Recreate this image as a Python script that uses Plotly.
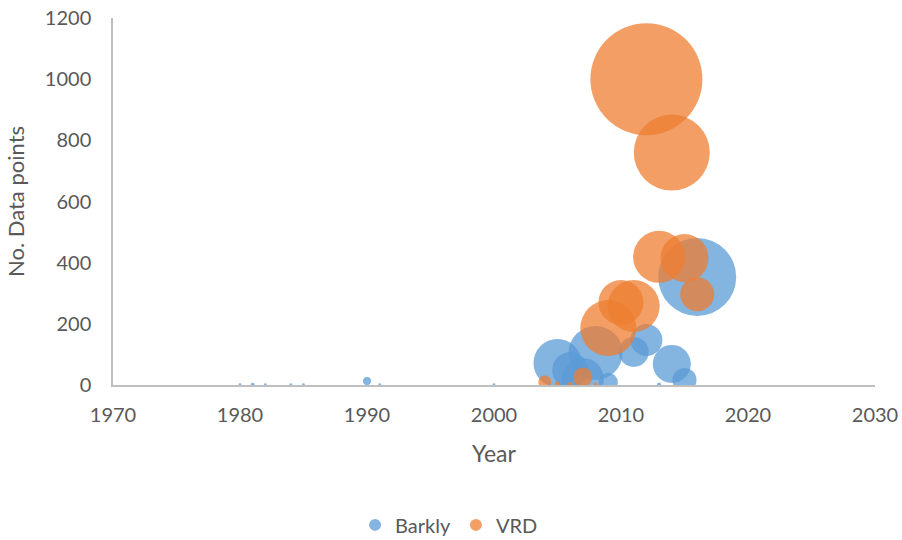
import plotly.graph_objects as go

# Barkly series
barkly_year = [1980, 1981, 1982, 1984, 1985, 1990, 1991, 2000,
               2005, 2006, 2007, 2008, 2009, 2011, 2012, 2013, 2014, 2015, 2016]
barkly_points = [1, 1, 1, 1, 1, 13, 1, 1,
                 72, 49, 20, 105, 9, 108, 147, 2, 69, 16, 353]
barkly_bubble = [2, 4, 2, 2, 2, 16, 2, 2,
                 576, 324, 441, 729, 90, 225, 256, 4, 361, 144, 1521]

# VRD series
vrd_year = [2004, 2005, 2006, 2007, 2008, 2009, 2010, 2011, 2012, 2013, 2014, 2015, 2016]
vrd_points = [10, 4, 2, 26, 2, 186, 270, 258, 1000, 419, 760, 415, 297]
vrd_bubble = [42, 6, 6, 90, 4, 784, 506, 676, 3136, 676, 1444, 576, 289]

x_ticks = [1970, 1980, 1990, 2000, 2010, 2020, 2030]
y_ticks = [0, 200, 400, 600, 800, 1000, 1200]

FONT = "Lato, 'Open Sans', sans-serif"
GREY = "#595959"
SIZEREF = 0.5

fig = go.Figure()
fig.add_trace(go.Scatter(
    x=barkly_year, y=barkly_points, mode="markers", name="Barkly",
    marker=dict(size=barkly_bubble, sizemode="area", sizeref=SIZEREF, sizemin=0,
                color="#5B9BD5", opacity=0.75, line=dict(width=0)),
))
fig.add_trace(go.Scatter(
    x=vrd_year, y=vrd_points, mode="markers", name="VRD",
    marker=dict(size=vrd_bubble, sizemode="area", sizeref=SIZEREF, sizemin=0,
                color="#ED7D31", opacity=0.75, line=dict(width=0)),
))

fig.update_layout(
    width=902, height=540,
    margin=dict(l=113, r=27, t=18, b=155, autoexpand=False),
    plot_bgcolor="white", paper_bgcolor="white",
    font=dict(family=FONT, color=GREY, size=20),
    showlegend=True,
    legend=dict(orientation="h", x=0.441, xanchor="center",
                yref="container", y=0.028, yanchor="middle",
                font=dict(size=20, color=GREY), itemsizing="constant"),
    xaxis=dict(range=[1970, 2030], tickvals=x_ticks, showgrid=False, zeroline=False,
               showline=True, linecolor="#BFBFBF", linewidth=1.5, automargin=False,
               ticks="", ticklabelstandoff=11,
               title=dict(text="Year", font=dict(size=23, color=GREY), standoff=21)),
    yaxis=dict(range=[0, 1200], tickvals=y_ticks, showgrid=False, zeroline=False,
               showline=True, linecolor="#BFBFBF", linewidth=1.5, automargin=False,
               ticks="", ticklabelstandoff=16,
               title=dict(text="No. Data points", font=dict(size=22, color=GREY), standoff=14)),
)

fig.write_html("out.html",
               config={"displayModeBar": False},
               post_script="document.body.style.margin='0';document.body.style.overflow='hidden';")
